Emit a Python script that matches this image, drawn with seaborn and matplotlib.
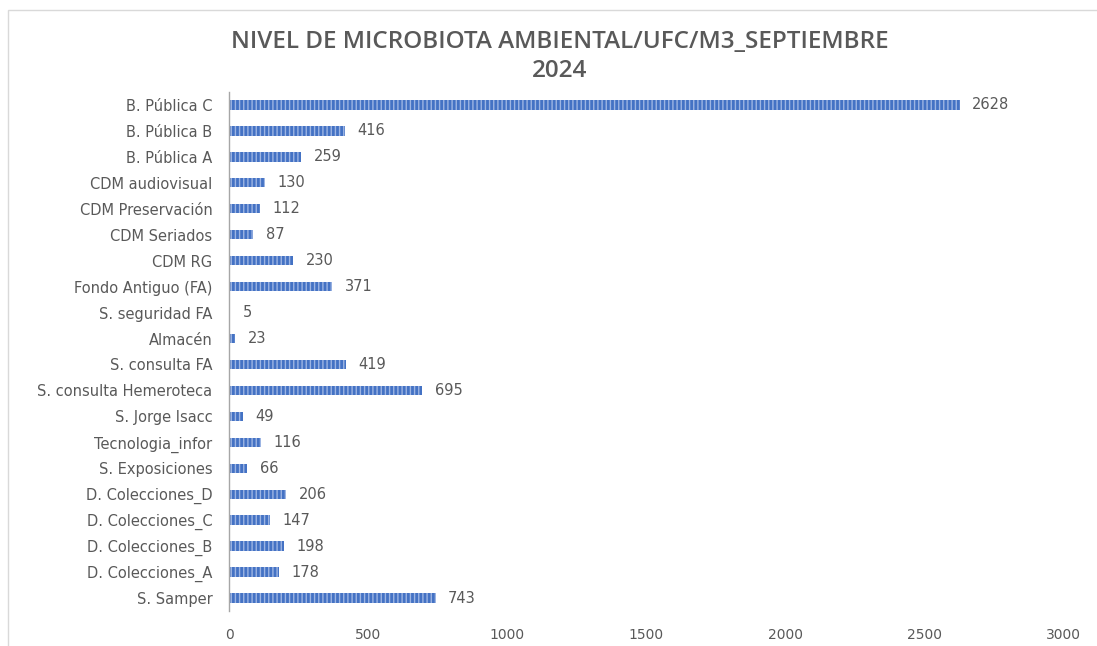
import pandas as pd
import matplotlib
matplotlib.use("Agg")
import matplotlib.pyplot as plt
import seaborn as sns
from matplotlib.patches import Rectangle

# Data (top to bottom as shown)
areas = ["B. Pública C", "B. Pública B", "B. Pública A", "CDM audiovisual",
         "CDM Preservación", "CDM Seriados", "CDM RG", "Fondo Antiguo (FA)",
         "S. seguridad FA", "Almacén", "S. consulta FA", "S. consulta Hemeroteca",
         "S. Jorge Isacc", "Tecnologia_infor", "S. Exposiciones", "D. Colecciones_D",
         "D. Colecciones_C", "D. Colecciones_B", "D. Colecciones_A", "S. Samper"]
ufc = [2628, 416, 259, 130, 112, 87, 230, 371, 5, 23,
       419, 695, 49, 116, 66, 206, 147, 198, 178, 743]
x_ticks = [0, 500, 1000, 1500, 2000, 2500, 3000]

TITLE = "NIVEL DE MICROBIOTA AMBIENTAL/UFC/M3_SEPTIEMBRE\n2024"

df = pd.DataFrame({"area": areas, "ufc": ufc})

sns.set_style("white")
plt.rcParams["font.family"] = ["DejaVu Sans"]

fig = plt.figure(figsize=(10.97, 6.46), dpi=100)
ax = fig.add_axes([0.2088, 0.0542, 0.7602, 0.8034])

sns.barplot(data=df, x="ufc", y="area", order=areas, orient="h",
            color="#4472C4", width=0.36, saturation=1, ax=ax)

# striped look of the original bars
for bar in ax.patches:
    bar.set_hatch("||||")
    bar.set_edgecolor("#9DB5E3")
    bar.set_linewidth(0)

ax.bar_label(ax.containers[0], labels=[str(v) for v in ufc], padding=9,
             fontsize=10.5, color="#595959")

ax.set_xlim(0, 3000)
ax.set_ylim(len(areas) - 0.5, -0.5)
ax.set_xticks(x_ticks)
ax.set_xticklabels([str(t) for t in x_ticks], fontsize=10, color="#595959")
ax.tick_params(axis="y", labelsize=10.5, labelcolor="#595959", length=0, pad=12)
ax.tick_params(axis="x", length=0, pad=12)
ax.set_xlabel("")
ax.set_ylabel("")

for s in ["top", "right", "bottom"]:
    ax.spines[s].set_visible(False)
ax.spines["left"].set_color("#A6A6A6")
ax.spines["left"].set_linewidth(1)

fig.text(0.51, 0.913, TITLE, ha="center", va="center", fontsize=17.5,
         family=["Open Sans", "DejaVu Sans"], fontweight=600,
         color="#595959", linespacing=1.3)

# light frame of the original screenshot
fig.patches.append(Rectangle((0.007, -0.01), 1.1, 0.995, transform=fig.transFigure,
                             fill=False, edgecolor="#D9D9D9", linewidth=1))

fig.savefig("out.png", dpi=100)
